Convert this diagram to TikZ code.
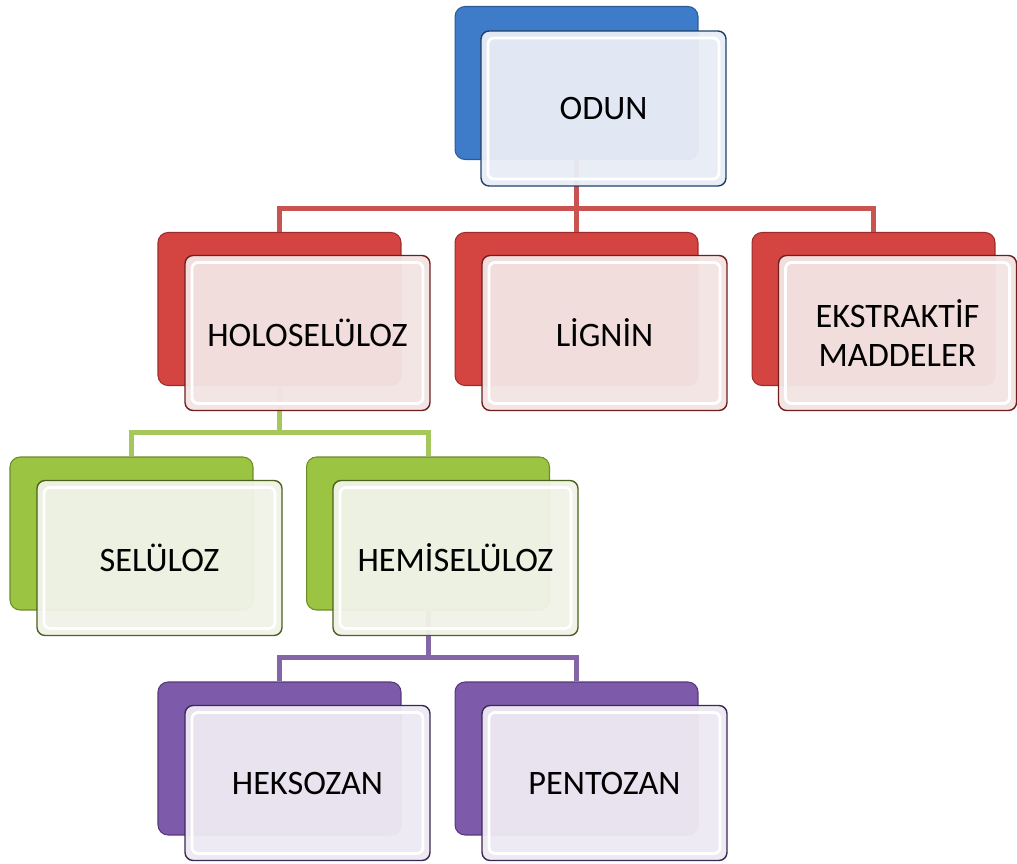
\documentclass[tikz,border=0pt]{standalone}
\usepackage{fontspec}
\setmainfont{Carlito}
\definecolor{blueback}{HTML}{3E7BC8}
\definecolor{blueedge}{HTML}{2B5C97}
\definecolor{bluefront}{HTML}{E8EDF6}
\definecolor{redback}{HTML}{D44542}
\definecolor{rededge}{HTML}{9E2B29}
\definecolor{redfront}{HTML}{F4E4E4}
\definecolor{redline}{HTML}{C95350}
\definecolor{greenback}{HTML}{9CC443}
\definecolor{greenedge}{HTML}{6C8C28}
\definecolor{greenfront}{HTML}{F0F3E8}
\definecolor{greenline}{HTML}{A5C75C}
\definecolor{purpleback}{HTML}{7E5AAA}
\definecolor{purpleedge}{HTML}{56397A}
\definecolor{purplefront}{HTML}{EDE9F2}
\definecolor{purpleline}{HTML}{8466A6}
\begin{document}
\begin{tikzpicture}[x=0.02cm,y=-0.02cm,
   backbox/.style={rounded corners=0.2cm,line width=0.6pt,minimum width=4.86cm,minimum height=3.06cm,inner sep=0pt},
   frontbox/.style={rounded corners=0.16cm,line width=0.8pt,minimum width=4.9cm,minimum height=3.1cm,inner sep=0pt,
      fill opacity=0.96,text opacity=1,align=center,font=\fontsize{19.5}{22}\selectfont,
      path picture={\draw [white,line width=1.6pt,rounded corners=0.12cm]
         ([shift={(0.14cm,0.14cm)}]path picture bounding box.south west) rectangle
         ([shift={(-0.14cm,-0.14cm)}]path picture bounding box.north east);}},
   link/.style={line width=0.1cm}]
   \useasboundingbox (0,0) rectangle (1017,864);
   % back boxes
   \node [backbox,fill=blueback,draw=blueedge] (odunB) at (576.5,83) {};
   \node [backbox,fill=redback,draw=rededge] (holoB) at (279.5,309) {};
   \node [backbox,fill=redback,draw=rededge] (ligninB) at (576.5,309) {};
   \node [backbox,fill=redback,draw=rededge] (ekstB) at (873.5,309) {};
   \node [backbox,fill=greenback,draw=greenedge] (selB) at (131.5,533.5) {};
   \node [backbox,fill=greenback,draw=greenedge] (hemiB) at (428,533.5) {};
   \node [backbox,fill=purpleback,draw=purpleedge] (heksB) at (279.5,758.5) {};
   \node [backbox,fill=purpleback,draw=purpleedge] (pentB) at (576.5,758.5) {};
   % connectors
   \coordinate (redbus) at (576.5,209);
   \coordinate (greenbus) at (279.5,433);
   \coordinate (purplebus) at (428,657);
   \draw [link,redline] (odunB.south) -- (ligninB.north);
   \draw [link,redline] (holoB.north) |- (redbus) -| (ekstB.north);
   \draw [link,greenline] (holoB.south) -- (greenbus);
   \draw [link,greenline] (selB.north) |- (greenbus) -| (hemiB.north);
   \draw [link,purpleline] (hemiB.south) -- (purplebus);
   \draw [link,purpleline] (heksB.north) |- (purplebus) -| (pentB.north);
   % front boxes
   \node [frontbox,fill=bluefront,draw=blueedge!70!black] (odun) at (603.5,108.5) {ODUN};
   \node [frontbox,fill=redfront,draw=rededge!70!black] (holo) at (307.5,333) {HOLOSELÜLOZ};
   \node [frontbox,fill=redfront,draw=rededge!70!black] (lignin) at (604.5,333) {LİGNİN};
   \node [frontbox,fill=redfront,draw=rededge!70!black,minimum width=4.76cm] (ekst) at (897.5,333) {EKSTRAKTİF\\MADDELER};
   \node [frontbox,fill=greenfront,draw=greenedge!70!black] (sel) at (159.5,558) {SELÜLOZ};
   \node [frontbox,fill=greenfront,draw=greenedge!70!black] (hemi) at (455.5,558) {HEMİSELÜLOZ};
   \node [frontbox,fill=purplefront,draw=purpleedge!70!black] (heks) at (307.5,783) {HEKSOZAN};
   \node [frontbox,fill=purplefront,draw=purpleedge!70!black] (pent) at (604.5,783) {PENTOZAN};
  \end{tikzpicture}
\end{document}
